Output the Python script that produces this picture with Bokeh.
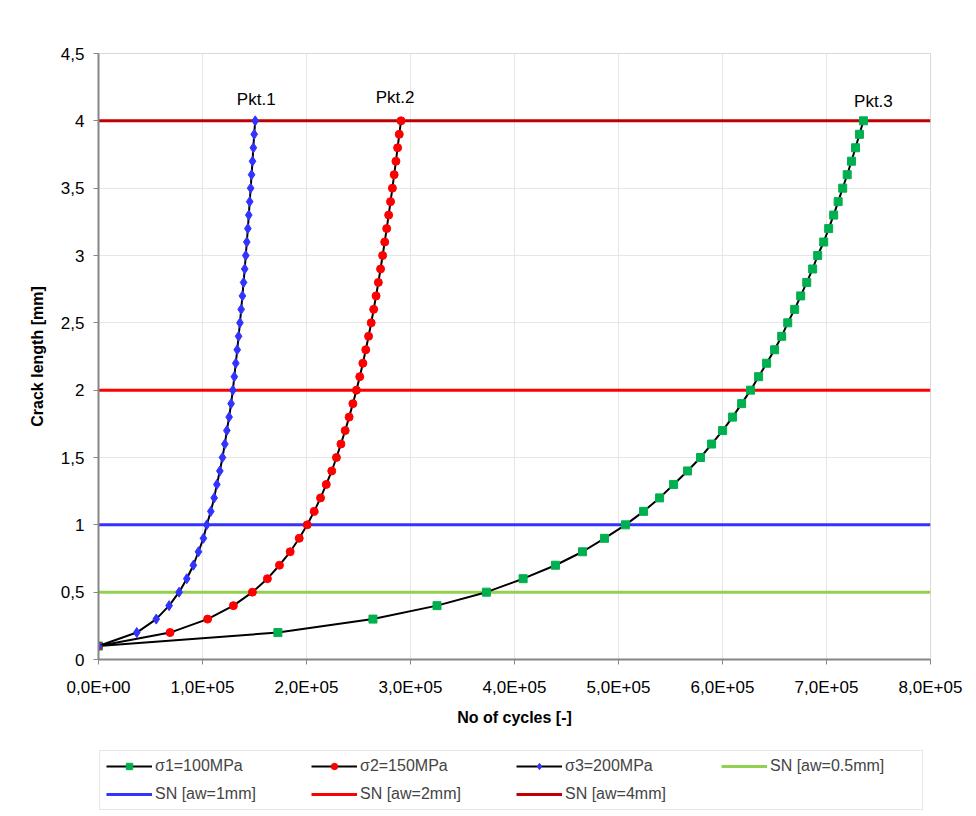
from bokeh.plotting import figure
from bokeh.layouts import column
from bokeh.models import Legend, LegendItem, FixedTicker, Range1d, ColumnDataSource
from bokeh.embed import file_html
from bokeh.resources import INLINE
from bokeh.core.properties import value

FONT = "Liberation Sans"

# ---------------- data ----------------
crack_length = [0.1, 0.2, 0.3, 0.4, 0.5, 0.6, 0.7, 0.8, 0.9, 1.0,
                1.1, 1.2, 1.3, 1.4, 1.5, 1.6, 1.7, 1.8, 1.9, 2.0,
                2.1, 2.2, 2.3, 2.4, 2.5, 2.6, 2.7, 2.8, 2.9, 3.0,
                3.1, 3.2, 3.3, 3.4, 3.5, 3.6, 3.7, 3.8, 3.9, 4.0]

cycles_s1_100MPa = [0, 172500, 263900, 325500, 373000, 408300, 439400, 465400, 486500, 506700,
                    524100, 539500, 553000, 566400, 578900, 589500, 600100, 609700, 618400, 627000,
                    634700, 642400, 650100, 656900, 662700, 669400, 675200, 681000, 686700, 691500,
                    697300, 702100, 706900, 711200, 715600, 719900, 724000, 727900, 731700, 735500]

cycles_s2_150MPa = [0, 68800, 104900, 129700, 148000, 162400, 174000, 184300, 193000, 200700,
                    207400, 213500, 219000, 224300, 228800, 233100, 237200, 241000, 244600, 248000,
                    251200, 254200, 257000, 259700, 262200, 264600, 266900, 269100, 271200, 273200,
                    275200, 277100, 279000, 280800, 282600, 284300, 286000, 287600, 289200, 290900]

cycles_s3_200MPa = [0, 36800, 55500, 67900, 77500, 84900, 91200, 96100, 100900, 104100,
                    108000, 111200, 113800, 116700, 119200, 121500, 123400, 125600, 127500, 129200,
                    130600, 132000, 133400, 134700, 136000, 137200, 138400, 139500, 140600, 141600,
                    142600, 143600, 144500, 145400, 146300, 147200, 148100, 148900, 149700, 150700]

series_names = ["σ1=100MPa", "σ2=150MPa", "σ3=200MPa"]

sn_names = ["SN [aw=0.5mm]", "SN [aw=1mm]", "SN [aw=2mm]", "SN [aw=4mm]"]
sn_levels = [0.5, 1, 2, 4]
sn_x_extent = [0, 800000]

point_labels = ["Pkt.1", "Pkt.2", "Pkt.3"]

x_ticks = [0, 100000, 200000, 300000, 400000, 500000, 600000, 700000, 800000]
x_tick_labels = ["0,0E+00", "1,0E+05", "2,0E+05", "3,0E+05", "4,0E+05",
                 "5,0E+05", "6,0E+05", "7,0E+05", "8,0E+05"]
y_ticks = [0, 0.5, 1, 1.5, 2, 2.5, 3, 3.5, 4, 4.5]
y_tick_labels = ["0", "0,5", "1", "1,5", "2", "2,5", "3", "3,5", "4", "4,5"]

# ---------------- styling ----------------
series_colors = ["#00B050", "#FF0000", "#3333FF"]
series_markers = ["square", "circle", "diamond"]
series_sizes = [8, 8, 10]
sn_colors = ["#92D050", "#3333FF", "#FF0000", "#C00000"]

p = figure(frame_width=832, frame_height=606, output_backend="svg", toolbar_location=None,
           x_range=Range1d(0, 800000), y_range=Range1d(0, 4.5),
           min_border_left=98, min_border_top=53, min_border_right=46, min_border_bottom=72)
p.background_fill_color = "white"
p.border_fill_color = "white"
p.outline_line_color = "#d9d9d9"

p.xaxis.ticker = FixedTicker(ticks=x_ticks)
p.yaxis.ticker = FixedTicker(ticks=y_ticks)
p.xaxis.major_label_overrides = dict(zip(x_ticks, x_tick_labels))
p.yaxis.major_label_overrides = dict(zip(y_ticks, y_tick_labels))

for ax in (p.xaxis[0], p.yaxis[0]):
    ax.axis_line_color = "#868686"
    ax.axis_line_width = 2
    ax.major_tick_line_color = "#868686"
    ax.major_tick_in = 0
    ax.major_tick_out = 5
    ax.minor_tick_line_color = None
    ax.major_label_text_font = FONT
    ax.major_label_text_font_size = "17px"
    ax.major_label_text_color = "#000000"
    ax.axis_label_text_font = FONT
    ax.axis_label_text_font_size = "16px"
    ax.axis_label_text_font_style = "bold"
    ax.axis_label_text_color = "#000000"

p.xaxis.axis_label = "No of cycles [-]"
p.yaxis.axis_label = "Crack length [mm]"
p.xaxis.major_label_standoff = 13
p.yaxis.major_label_standoff = 9
p.xaxis.axis_label_standoff = 9
p.yaxis.axis_label_standoff = 12

p.xgrid.grid_line_color = "#e6e6e6"
p.ygrid.grid_line_color = "#e6e6e6"

# legend holder (below the chart); its frame is aligned with the chart frame
lg = figure(width=976, height=85, output_backend="svg", toolbar_location=None,
            x_range=Range1d(-3e6, -2e6), y_range=Range1d(-3e6, -2e6),
            x_axis_type=None, y_axis_type=None, min_border=0)
lg.outline_line_color = None
lg.background_fill_color = "white"
lg.border_fill_color = "white"
lg.grid.visible = False

series_items = []
sn_items = []
for name, lvl, col in zip(sn_names, sn_levels, sn_colors):
    src = ColumnDataSource(dict(x=sn_x_extent, y=[lvl, lvl]))
    p.line("x", "y", source=src, line_color=col, line_width=3)
    r2 = lg.line("x", "y", source=src, line_color=col, line_width=3)
    sn_items.append(LegendItem(label=name, renderers=[r2]))

for name, xs, col, mk, sz in zip(series_names,
                                  [cycles_s1_100MPa, cycles_s2_150MPa, cycles_s3_200MPa],
                                  series_colors, series_markers, series_sizes):
    src = ColumnDataSource(dict(x=xs, y=crack_length))
    p.line("x", "y", source=src, line_color="black", line_width=2)
    p.scatter("x", "y", source=src, marker=mk, size=sz, fill_color=col, line_color=col)
    l2 = lg.line("x", "y", source=src, line_color="black", line_width=2)
    s2 = lg.scatter("x", "y", source=src, marker=mk, size=sz, fill_color=col, line_color=col)
    series_items.append(LegendItem(label=name, renderers=[l2, s2]))

lab_src = ColumnDataSource(dict(
    x=[cycles_s3_200MPa[-1], cycles_s2_150MPa[-1], cycles_s1_100MPa[-1]],
    y=[crack_length[-1]] * 3,
    text=point_labels,
    xo=[1, -6, 10],
    yo=[-12, -14, -10],
))
p.text("x", "y", text="text", source=lab_src, x_offset="xo", y_offset="yo",
       text_align="center", text_baseline="bottom",
       text_font=value(FONT), text_font_size="17px", text_color="black")

legend = Legend(items=series_items + sn_items, orientation="horizontal", ncols=4,
                location=(1, 6), glyph_width=46, glyph_height=16,
                label_standoff=3, label_width=146, spacing=10,
                label_text_font=FONT, label_text_font_size="16px",
                border_line_color="#d0d0d0", padding=6, margin=0,
                background_fill_color="white", background_fill_alpha=1)
lg.add_layout(legend, "center")

layout = column(p, lg, spacing=0)
open("out.html", "w").write(file_html(layout, INLINE))
